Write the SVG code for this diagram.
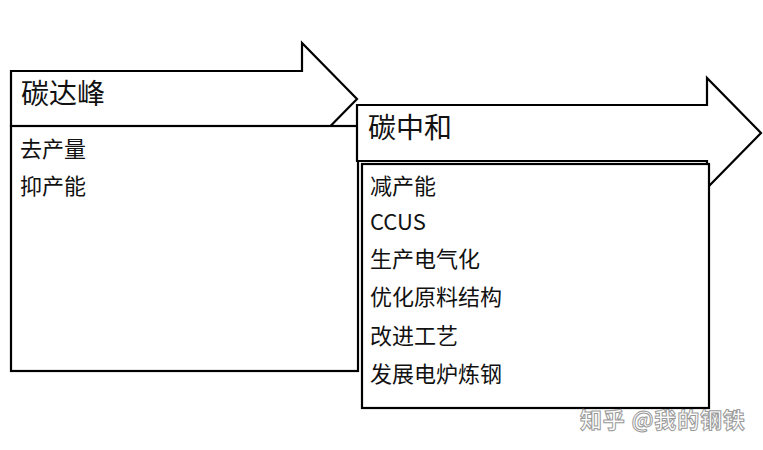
<svg xmlns="http://www.w3.org/2000/svg" width="763" height="450" viewBox="0 0 763 450">
<style>
.sh{fill:#fff;stroke:#000;stroke-width:2.2;stroke-linejoin:miter}
.t{font-family:"Noto Sans CJK SC","Noto Sans",sans-serif;fill:#111}
.title{font-size:28px}
.item{font-size:22px}
.wm{font-family:"Noto Sans CJK SC",sans-serif;font-size:22px;font-weight:bold;letter-spacing:0.8px;fill:#fff;stroke:#9a9a9a;stroke-width:1}
</style>
<rect width="763" height="450" fill="#fff"/>
<g id="peak-arrow">
<path class="sh" d="M11,71 H302 V43 L357,99 L302,155 V126 H11 Z"/>
<text class="t title" x="21" y="104">碳达峰</text>
</g>
<g id="peak-box">
<rect class="sh" x="11" y="126" width="347" height="245"/>
<text class="t item" x="20" y="157">去产量</text>
<text class="t item" x="20" y="194">抑产能</text>
</g>
<g id="neutral-arrow">
<path class="sh" d="M357,105 H707 V78 L761,133 L707,188 V161 H357 Z"/>
<text class="t title" x="368" y="138">碳中和</text>
</g>
<g id="neutral-box">
<rect class="sh" x="362" y="164" width="347" height="244"/>
<text class="t item" x="370" y="194">减产能</text>
<text class="t item" x="370" y="230">CCUS</text>
<text class="t item" x="370" y="267">生产电气化</text>
<text class="t item" x="370" y="305">优化原料结构</text>
<text class="t item" x="370" y="344">改进工艺</text>
<text class="t item" x="370" y="382">发展电炉炼钢</text>
</g>
<g id="connectors"/>
<text class="wm" x="580" y="428">知乎 @我的钢铁</text>
</svg>
